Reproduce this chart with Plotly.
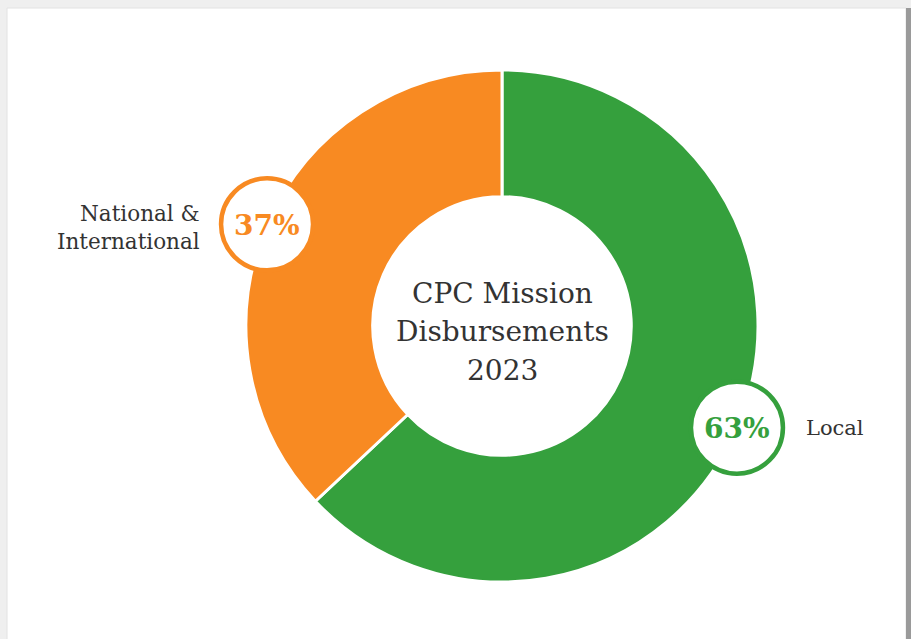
import math
import plotly.graph_objects as go

# Data
categories = ["Local", "National &<br>International"]
values = [63, 37]
pct_labels = ["63%", "37%"]
colors = ["#35a03d", "#f88a22"]
title_lines = ["CPC Mission", "Disbursements", "2023"]

W, H = 911, 639
cx, cy, R = 502, 326, 256
hole = 0.505

fig = go.Figure()
fig.add_trace(go.Pie(
    labels=categories, values=values, hole=hole, sort=False,
    direction="clockwise", rotation=0,
    marker=dict(colors=colors, line=dict(color="white", width=3)),
    textinfo="none", hoverinfo="label+percent", showlegend=False,
    domain=dict(x=[(cx - R) / W, (cx + R) / W],
                y=[(H - cy - R) / H, (H - cy + R) / H]),
))

shapes = [
    dict(type="rect", xref="paper", yref="paper", x0=0, x1=1, y0=0, y1=1,
         fillcolor="#efefef", line_width=0, layer="below"),
    dict(type="rect", xref="x", yref="y", x0=7, x1=906, y0=8, y1=H + 5,
         fillcolor="white", line=dict(color="#e2e2e2", width=1), layer="below"),
    dict(type="rect", xref="x", yref="y", x0=906, x1=911, y0=8, y1=H,
         fillcolor="#9a9a9a", line_width=0, layer="below"),
]
annotations = []
total = sum(values)
start = 0.0
for cat, v, pl, col in zip(categories, values, pct_labels, colors):
    mid = (start + v / 2) / total * 2 * math.pi
    start += v
    px = cx + R * math.sin(mid)
    py = cy - R * math.cos(mid)
    shapes.append(dict(type="circle", xref="x", yref="y",
                       x0=px - 46, x1=px + 46, y0=py - 46, y1=py + 46,
                       fillcolor="white", line=dict(color=col, width=4.5)))
    annotations.append(dict(x=px, y=py + 1, xref="x", yref="y", text="<b>" + pl + "</b>",
                            showarrow=False, font=dict(family="DejaVu Serif", size=28, color=col)))
    if px > cx:
        annotations.append(dict(x=px + 67, y=py, xref="x", yref="y", text=cat,
                                xanchor="left", showarrow=False,
                                font=dict(family="DejaVu Serif", size=21, color="#333333")))
    else:
        annotations.append(dict(x=px - 65, y=py + 3, xref="x", yref="y", text=cat,
                                xanchor="right", align="right", showarrow=False,
                                font=dict(family="DejaVu Serif", size=21.5, color="#333333")))

for i, line in enumerate(title_lines):
    annotations.append(dict(x=cx, y=cy - 33 + i * 38.5, xref="x", yref="y", text=line,
                            showarrow=False, align="center",
                            font=dict(family="DejaVu Serif", size=28, color="#333333")))

fig.update_layout(
    width=W, height=H, margin=dict(l=0, r=0, t=0, b=0),
    paper_bgcolor="white", plot_bgcolor="rgba(0,0,0,0)",
    xaxis=dict(range=[0, W], visible=False, fixedrange=True),
    yaxis=dict(range=[H, 0], visible=False, fixedrange=True),
    shapes=shapes, annotations=annotations,
)
fig.write_html("out.html", config={"displayModeBar": False},
               post_script="document.body.style.margin='0';document.body.style.overflow='hidden';")
